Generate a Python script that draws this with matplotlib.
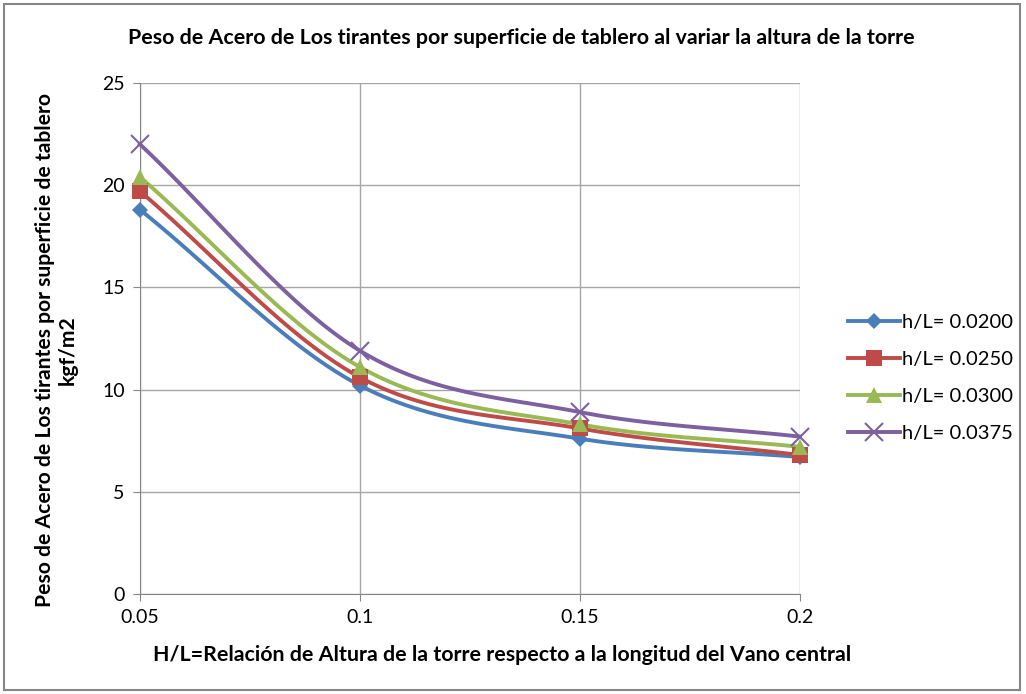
from matplotlib import pyplot as plt
from matplotlib.patches import Rectangle
import numpy as np

plt.rcParams['font.family'] = ['Lato', 'DejaVu Sans']

# Relacion H/L de la torre
x = [0.05, 0.10, 0.15, 0.20]

# Peso de acero (kgf/m2) para cada h/L del tablero
w_0200 = [18.8, 10.2, 7.6, 6.7]
w_0250 = [19.7, 10.6, 8.1, 6.8]
w_0300 = [20.4, 11.1, 8.3, 7.2]
w_0375 = [22.0, 11.9, 8.9, 7.7]

labels = ['h/L= 0.0200', 'h/L= 0.0250', 'h/L= 0.0300', 'h/L= 0.0375']
series = [w_0200, w_0250, w_0300, w_0375]
colors = ['#4A7EBB', '#BE4B48', '#98B954', '#7D60A0']
markers = ['D', 's', '^', 'x']
msizes = [8, 11, 11, 13]


def suave(xs, ys, n=40):
    # curva suavizada tipo Catmull-Rom que pasa por los puntos
    xs = np.asarray(xs, float)
    ys = np.asarray(ys, float)
    px = np.concatenate([[2 * xs[0] - xs[1]], xs, [2 * xs[-1] - xs[-2]]])
    py = np.concatenate([[2 * ys[0] - ys[1]], ys, [2 * ys[-1] - ys[-2]]])
    ox, oy = [], []
    t = np.linspace(0, 1, n)
    for i in range(1, len(px) - 2):
        for p, o in ((px, ox), (py, oy)):
            p0, p1, p2, p3 = p[i - 1], p[i], p[i + 1], p[i + 2]
            c = 0.5 * ((2 * p1) + (-p0 + p2) * t
                       + (2 * p0 - 5 * p1 + 4 * p2 - p3) * t ** 2
                       + (-p0 + 3 * p1 - 3 * p2 + p3) * t ** 3)
            o.extend(c)
    return np.array(ox), np.array(oy)


fig = plt.figure(figsize=(10.26, 6.94), dpi=100)
ax = fig.add_axes([140 / 1026, 100 / 694, 660 / 1026, 511 / 694])

for ys, lab, col, mk, ms in zip(series, labels, colors, markers, msizes):
    sx, sy = suave(x, ys)
    ax.plot(sx, sy, color=col, lw=2.8, zorder=3, clip_on=False)
    ax.plot(x, ys, color=col, marker=mk, ms=ms, mew=1.5 if mk == 'x' else 0,
            label=lab, zorder=4, linestyle='none', clip_on=False)

# entradas de leyenda con linea y marcador
handles = [plt.Line2D([], [], color=c, lw=2.8, marker=m, ms=s, mew=1.5 if m == 'x' else 0)
           for c, m, s in zip(colors, markers, msizes)]

ax.set_xlim(0.05, 0.2)
ax.set_ylim(0, 25)
ax.set_xticks([0.05, 0.1, 0.15, 0.2])
ax.set_xticklabels(['0.05', '0.1', '0.15', '0.2'])
ax.set_yticks([0, 5, 10, 15, 20, 25])
ax.grid(True, color='#A6A6A6', lw=1)
ax.set_axisbelow(True)
for s in ['top', 'right']:
    ax.spines[s].set_visible(False)
for s in ['left', 'bottom']:
    ax.spines[s].set_color('#868686')
ax.tick_params(labelsize=14, length=5, color='#868686', pad=6)

ax.set_title('Peso de Acero de Los tirantes por superficie de tablero al variar la altura de la torre',
             fontsize=15.4, fontweight='bold', pad=28, x=0.577)
ax.set_xlabel('H/L=Relación de Altura de la torre respecto a la longitud del Vano central',
              fontsize=15.4, fontweight='bold')
ax.xaxis.set_label_coords(0.548, -0.1)
ax.set_ylabel('Peso de Acero de Los tirantes por superficie de tablero\nkgf/m2',
              fontsize=15.2, fontweight='bold')
ax.yaxis.set_label_coords(-0.094, 0.477)

fig.legend(handles, labels, loc='center left', bbox_to_anchor=(830 / 1026, 1 - 378 / 694),
           frameon=False, fontsize=14.5, handlelength=2.6, handletextpad=0.1,
           labelspacing=1.0)

fig.patches.append(Rectangle((4 / 1026, 4 / 694), 1016 / 1026, 686 / 694,
                             transform=fig.transFigure, fill=False,
                             edgecolor='#868686', lw=1.5))

fig.savefig('out.png', dpi=100)
